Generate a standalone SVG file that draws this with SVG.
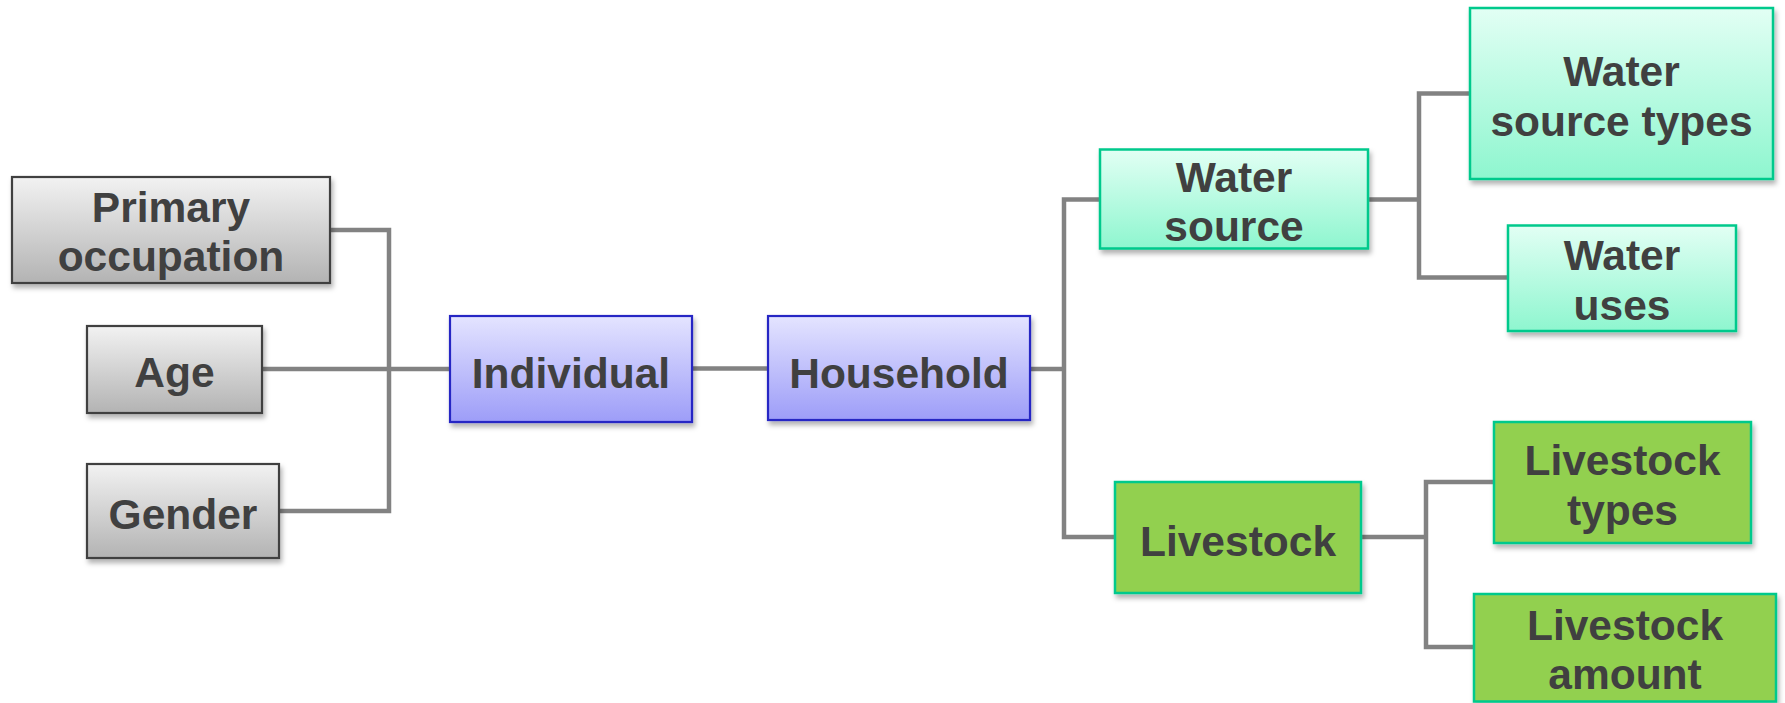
<svg xmlns="http://www.w3.org/2000/svg" width="1785" height="703" viewBox="0 0 1785 703">
<defs>
<linearGradient id="gGray" x1="0" y1="0" x2="0" y2="1">
<stop offset="0" stop-color="#f2f2f2"/><stop offset="1" stop-color="#b3b3b3"/>
</linearGradient>
<linearGradient id="gBlue" x1="0" y1="0" x2="0" y2="1">
<stop offset="0" stop-color="#e4e4ff"/><stop offset="1" stop-color="#9d9df8"/>
</linearGradient>
<linearGradient id="gTeal" x1="0" y1="0" x2="0" y2="1">
<stop offset="0" stop-color="#e2fff4"/><stop offset="1" stop-color="#8ef6cf"/>
</linearGradient>
<filter id="sh" x="-10%" y="-10%" width="125%" height="130%">
<feDropShadow dx="2" dy="4" stdDeviation="2.5" flood-color="#000" flood-opacity="0.3"/>
</filter>
</defs>
<style>
.gray{fill:url(#gGray);stroke:#404040;stroke-width:2.2}
.blue{fill:url(#gBlue);stroke:#2626c4;stroke-width:2.2}
.teal{fill:url(#gTeal);stroke:#00c98c;stroke-width:2.5}
.green{fill:#92d050;stroke:#00c98c;stroke-width:2.5}
.box{filter:url(#sh)}
text{font-family:"Liberation Sans",Arial,sans-serif;font-weight:bold;font-size:42.5px;fill:#404040;text-anchor:middle}
.conn{fill:none;stroke:#828282;stroke-width:4.5;stroke-linejoin:miter}
</style>
<rect width="1785" height="703" fill="#ffffff"/>
<g id="connectors">
<polyline class="conn" points="330,230 389,230 389,511 279,511"/>
<line class="conn" x1="262" y1="369" x2="450" y2="369"/>
<line class="conn" x1="692" y1="368.5" x2="768" y2="368.5"/>
<polyline class="conn" points="1030,369 1064,369"/>
<polyline class="conn" points="1100,199.5 1064,199.5 1064,537 1115,537"/>
<polyline class="conn" points="1368,199.5 1419,199.5"/>
<polyline class="conn" points="1470,93.5 1419,93.5 1419,277.5 1508,277.5"/>
<polyline class="conn" points="1361,537 1426,537"/>
<polyline class="conn" points="1494,482 1426,482 1426,647 1474,647"/>
</g>
<g id="primary-occupation">
<rect class="box gray" x="12" y="177" width="318" height="106"/>
<text x="171" y="222">Primary</text>
<text x="171" y="271">occupation</text>
</g>
<g id="age">
<rect class="box gray" x="87" y="326" width="175" height="87"/>
<text x="174.5" y="387">Age</text>
</g>
<g id="gender">
<rect class="box gray" x="87" y="464" width="192" height="94"/>
<text x="183" y="528.5">Gender</text>
</g>
<g id="individual">
<rect class="box blue" x="450" y="316" width="242" height="106"/>
<text x="571" y="387.5">Individual</text>
</g>
<g id="household">
<rect class="box blue" x="768" y="316" width="262" height="104"/>
<text x="899" y="387.5">Household</text>
</g>
<g id="water-source">
<rect class="box teal" x="1100" y="149.5" width="268" height="99"/>
<text x="1234" y="191.5">Water</text>
<text x="1234" y="241">source</text>
</g>
<g id="water-source-types">
<rect class="box teal" x="1470" y="8" width="303" height="171"/>
<text x="1621.5" y="85.5">Water</text>
<text x="1621.5" y="135.5">source types</text>
</g>
<g id="water-uses">
<rect class="box teal" x="1508" y="225.5" width="228" height="105.5"/>
<text x="1622" y="270">Water</text>
<text x="1622" y="320">uses</text>
</g>
<g id="livestock">
<rect class="box green" x="1115" y="482" width="246" height="111"/>
<text x="1238" y="555.5">Livestock</text>
</g>
<g id="livestock-types">
<rect class="box green" x="1494" y="422" width="257" height="121"/>
<text x="1622.5" y="474.5">Livestock</text>
<text x="1622.5" y="524.5">types</text>
</g>
<g id="livestock-amount">
<rect class="box green" x="1474" y="594" width="302" height="107.5"/>
<text x="1625" y="640">Livestock</text>
<text x="1625" y="689">amount</text>
</g>
</svg>
